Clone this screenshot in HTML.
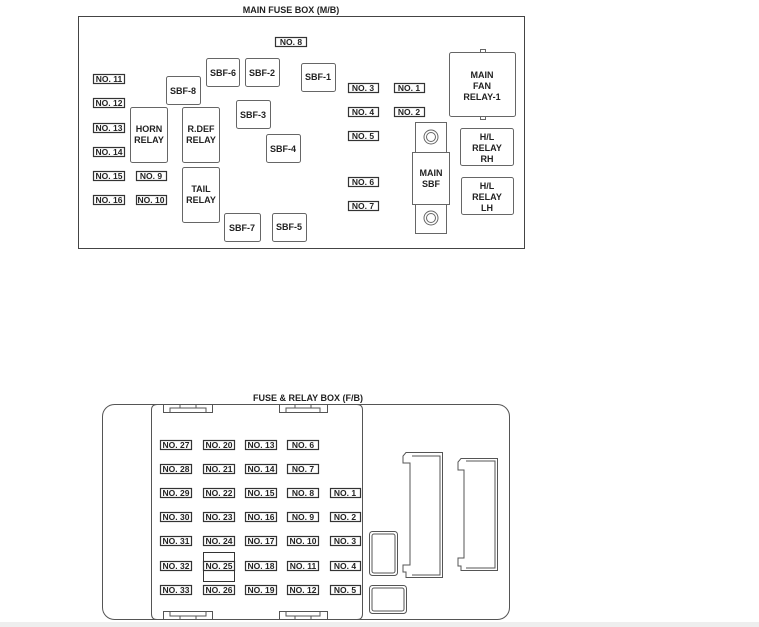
<!DOCTYPE html>
<html><head><style>body{margin:0;background:#fff}svg{display:block}text{font-family:"Liberation Sans",Arial,sans-serif;font-weight:bold;fill:#222}</style></head>
<body>
<svg width="759" height="627" viewBox="0 0 759 627" xmlns="http://www.w3.org/2000/svg">
<g font-size="9" text-anchor="middle">
<text x="291" y="13">MAIN FUSE BOX (M/B)</text>
<rect x="78.5" y="16.5" width="446" height="232" fill="none" stroke="#444"/>
<g fill="none" stroke="#333" stroke-width="1.2">
<rect x="275.5" y="37.5" width="31" height="9"/>
<rect x="93.5" y="74.5" width="31" height="9"/><rect x="93.5" y="98.5" width="31" height="9"/><rect x="93.5" y="123.5" width="31" height="9"/><rect x="93.5" y="147.5" width="31" height="9"/><rect x="93.5" y="171.5" width="31" height="9"/><rect x="93.5" y="195.5" width="31" height="9"/>
<rect x="136.5" y="171.5" width="30" height="9"/><rect x="136.5" y="195.5" width="30" height="9"/>
<rect x="348.5" y="83.5" width="30" height="9"/><rect x="348.5" y="107.5" width="30" height="9"/><rect x="348.5" y="131.5" width="30" height="9"/><rect x="348.5" y="177.5" width="30" height="9"/><rect x="348.5" y="201.5" width="30" height="9"/>
<rect x="394.5" y="83.5" width="30" height="9"/><rect x="394.5" y="107.5" width="30" height="9"/>
</g>
<g font-size="8.5">
<text x="291" y="45">NO. 8</text>
<text x="109" y="82">NO. 11</text><text x="109" y="106">NO. 12</text><text x="109" y="131">NO. 13</text><text x="109" y="155">NO. 14</text><text x="109" y="179">NO. 15</text><text x="109" y="203">NO. 16</text>
<text x="151" y="179">NO. 9</text><text x="151" y="203">NO. 10</text>
<text x="363" y="91">NO. 3</text><text x="363" y="115">NO. 4</text><text x="363" y="139">NO. 5</text><text x="363" y="185">NO. 6</text><text x="363" y="209">NO. 7</text>
<text x="409" y="91">NO. 1</text><text x="409" y="115">NO. 2</text>
</g>
<g fill="#fff" stroke="#666">
<rect x="206.5" y="58.5" width="33" height="28" rx="2"/><rect x="245.5" y="58.5" width="34" height="28" rx="2"/><rect x="301.5" y="63.5" width="34" height="28" rx="2"/><rect x="166.5" y="76.5" width="34" height="28" rx="2"/><rect x="236.5" y="100.5" width="34" height="28" rx="2"/><rect x="266.5" y="134.5" width="34" height="28" rx="2"/><rect x="224.5" y="213.5" width="36" height="28" rx="2"/><rect x="272.5" y="213.5" width="34" height="28" rx="2"/>
<rect x="130.5" y="107.5" width="37" height="55" rx="2"/><rect x="182.5" y="107.5" width="37" height="55" rx="2"/><rect x="182.5" y="167.5" width="37" height="55" rx="2"/>
<rect x="480.5" y="49.5" width="5" height="70"/>
<rect x="449.5" y="52.5" width="66" height="64" rx="2"/>
<rect x="460.5" y="128.5" width="53" height="37" rx="2"/><rect x="461.5" y="177.5" width="52" height="37" rx="2"/>
<rect x="415.5" y="122.5" width="31" height="111"/><rect x="412.5" y="152.5" width="37" height="52"/>
<circle cx="431" cy="137" r="7"/><circle cx="431" cy="137" r="4.5"/><circle cx="431" cy="218" r="7"/><circle cx="431" cy="218" r="4.5"/>
</g>
<text x="223" y="76">SBF-6</text><text x="262" y="76">SBF-2</text><text x="318" y="80">SBF-1</text><text x="183" y="94">SBF-8</text><text x="253" y="118">SBF-3</text><text x="283" y="152">SBF-4</text><text x="242" y="231">SBF-7</text><text x="289" y="230">SBF-5</text>
<text x="149" y="132">HORN</text><text x="149" y="143">RELAY</text><text x="201" y="132">R.DEF</text><text x="201" y="143">RELAY</text><text x="201" y="192">TAIL</text><text x="201" y="203">RELAY</text>
<text x="482" y="78">MAIN</text><text x="482" y="89">FAN</text><text x="482" y="100">RELAY-1</text>
<text x="487" y="140">H/L</text><text x="487" y="151">RELAY</text><text x="487" y="162">RH</text>
<text x="487" y="189">H/L</text><text x="487" y="200">RELAY</text><text x="487" y="211">LH</text>
<text x="431" y="176">MAIN</text><text x="431" y="187">SBF</text>

<text x="308" y="401">FUSE &amp; RELAY BOX (F/B)</text>
<g fill="none" stroke="#555">
<rect x="102.5" y="404.5" width="407" height="215" rx="12"/>
<path d="M163 404.5 H157 Q151.5 404.5 151.5 410 V614 Q151.5 619.5 157 619.5 H163 M212 404.5 H279 M327 404.5 H357 Q362.5 404.5 362.5 410 V614 Q362.5 619.5 357 619.5 H327 M212 619.5 H279"/>
<path d="M163.5 404 V412.5 H212.5 V404 M170 412 V408 H206 V412 M180 408 V404 M196 408 V404 M279.5 404 V412.5 H327.5 V404 M286 412 V408 H320 V412 M295 408 V404 M311 408 V404"/>
<path d="M163.5 620 V611.5 H212.5 V620 M170 612 V616 H206 V612 M180 616 V620 M196 616 V620 M279.5 620 V611.5 H327.5 V620 M286 612 V616 H320 V612 M295 616 V620 M311 616 V620"/>
<rect x="369.5" y="531.5" width="28" height="44" rx="3"/><rect x="372" y="534" width="23" height="39" rx="2"/>
<rect x="369.5" y="585.5" width="37" height="28" rx="3"/><rect x="372" y="588" width="32" height="23" rx="2"/>
<path d="M406 452.5 H442.5 V577.5 H406 V572 H403 V565 H410 V463 H403 V456 Z"/><path d="M412 456 H440 V575 H412"/>
<path d="M461 458.5 H497.5 V570.5 H461 V566 H458 V558 H464 V470 H458 V462 Z"/><path d="M466 461 H495 V568 H466"/>
<rect x="203.5" y="552.5" width="31" height="29" stroke="#333"/>
</g>
<g fill="none" stroke="#333" stroke-width="1.2">
<rect x="160.5" y="440.5" width="31" height="9"/><rect x="203.5" y="440.5" width="31" height="9"/><rect x="245.5" y="440.5" width="31" height="9"/><rect x="287.5" y="440.5" width="31" height="9"/>
<rect x="160.5" y="464.5" width="31" height="9"/><rect x="203.5" y="464.5" width="31" height="9"/><rect x="245.5" y="464.5" width="31" height="9"/><rect x="287.5" y="464.5" width="31" height="9"/>
<rect x="160.5" y="488.5" width="31" height="9"/><rect x="203.5" y="488.5" width="31" height="9"/><rect x="245.5" y="488.5" width="31" height="9"/><rect x="287.5" y="488.5" width="31" height="9"/><rect x="330.5" y="488.5" width="30" height="9"/>
<rect x="160.5" y="512.5" width="31" height="9"/><rect x="203.5" y="512.5" width="31" height="9"/><rect x="245.5" y="512.5" width="31" height="9"/><rect x="287.5" y="512.5" width="31" height="9"/><rect x="330.5" y="512.5" width="30" height="9"/>
<rect x="160.5" y="536.5" width="31" height="9"/><rect x="203.5" y="536.5" width="31" height="9"/><rect x="245.5" y="536.5" width="31" height="9"/><rect x="287.5" y="536.5" width="31" height="9"/><rect x="330.5" y="536.5" width="30" height="9"/>
<rect x="160.5" y="561.5" width="31" height="9"/><rect x="203.5" y="561.5" width="31" height="9"/><rect x="245.5" y="561.5" width="31" height="9"/><rect x="287.5" y="561.5" width="31" height="9"/><rect x="330.5" y="561.5" width="30" height="9"/>
<rect x="160.5" y="585.5" width="31" height="9"/><rect x="203.5" y="585.5" width="31" height="9"/><rect x="245.5" y="585.5" width="31" height="9"/><rect x="287.5" y="585.5" width="31" height="9"/><rect x="330.5" y="585.5" width="30" height="9"/>
</g>
<g font-size="8.5">
<text x="176" y="448">NO. 27</text><text x="219" y="448">NO. 20</text><text x="261" y="448">NO. 13</text><text x="303" y="448">NO. 6</text>
<text x="176" y="472">NO. 28</text><text x="219" y="472">NO. 21</text><text x="261" y="472">NO. 14</text><text x="303" y="472">NO. 7</text>
<text x="176" y="496">NO. 29</text><text x="219" y="496">NO. 22</text><text x="261" y="496">NO. 15</text><text x="303" y="496">NO. 8</text><text x="345" y="496">NO. 1</text>
<text x="176" y="520">NO. 30</text><text x="219" y="520">NO. 23</text><text x="261" y="520">NO. 16</text><text x="303" y="520">NO. 9</text><text x="345" y="520">NO. 2</text>
<text x="176" y="544">NO. 31</text><text x="219" y="544">NO. 24</text><text x="261" y="544">NO. 17</text><text x="303" y="544">NO. 10</text><text x="345" y="544">NO. 3</text>
<text x="176" y="569">NO. 32</text><text x="219" y="569">NO. 25</text><text x="261" y="569">NO. 18</text><text x="303" y="569">NO. 11</text><text x="345" y="569">NO. 4</text>
<text x="176" y="593">NO. 33</text><text x="219" y="593">NO. 26</text><text x="261" y="593">NO. 19</text><text x="303" y="593">NO. 12</text><text x="345" y="593">NO. 5</text>
</g>
</g>
<rect x="0" y="622" width="759" height="5" fill="#eee"/>
</svg>
</body></html>
